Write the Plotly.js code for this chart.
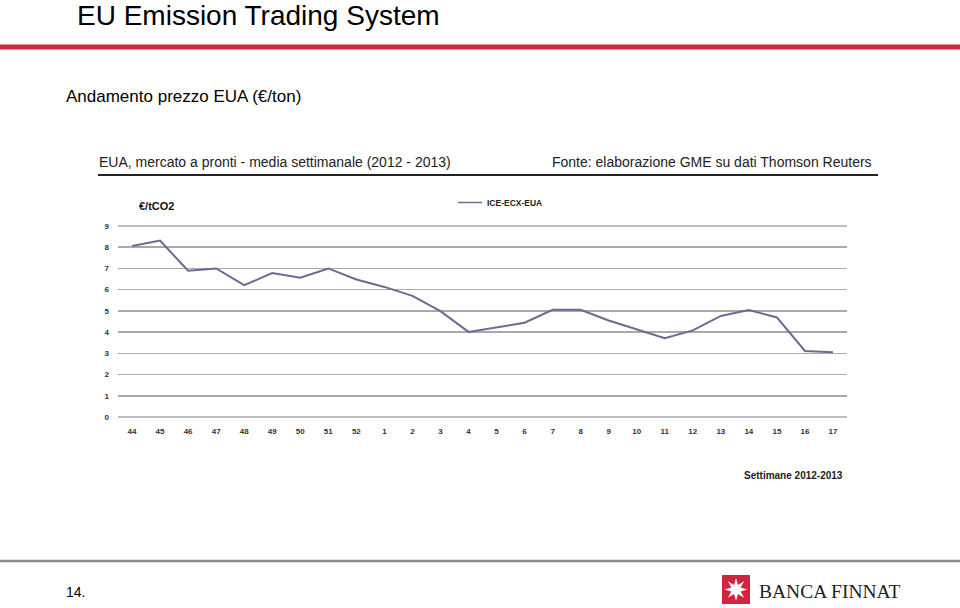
<!DOCTYPE html>
<html><head><meta charset="utf-8">
<script src="https://cdn.plot.ly/plotly-3.0.1.min.js"></script>
<style>html,body{margin:0;padding:0;background:#fff;}#chart{width:960px;height:608px;}</style>
</head><body><div id="chart"></div>
<script>
const weeks = ["44","45","46","47","48","49","50","51","52","1","2","3","4","5","6","7","8","9","10","11","12","13","14","15","16","17"];
const prices = [8.06,8.31,6.89,7.0,6.21,6.78,6.56,7.0,6.48,6.13,5.71,4.99,4.01,4.24,4.44,5.05,5.05,4.55,4.13,3.71,4.08,4.76,5.04,4.69,3.11,3.05];
const yTicks = [0,1,2,3,4,5,6,7,8,9];
const seriesName = "ICE-ECX-EUA";

const W = 960, H = 608, L = 118, R = 847, T = 226, B = 417;
const px = x => (x - L) / (R - L);
const py = y => (B - y) / (B - T);
const lineColor = "#6c6a94";
const red = "#cf2541";
const narrow = "Liberation Sans Narrow, Arial Narrow, Liberation Sans, Arial, sans-serif";

function text(t, x, y, size, opts) {
  return Object.assign({text: t, xref: "paper", yref: "paper", x: px(x), y: py(y), showarrow: false,
    xanchor: "left", yanchor: "middle", font: {family: "Liberation Sans, Arial, sans-serif", size: size, color: "#000"}}, opts || {});
}
function star(cx, cy, ro, ri, n) {
  let d = "";
  for (let i = 0; i < 2 * n; i++) {
    const a = -Math.PI / 2 + i * Math.PI / n;
    const r = i % 2 === 0 ? ro : ri;
    const X = px(cx + r * Math.cos(a)), Y = py(cy + r * Math.sin(a));
    d += (i === 0 ? "M" : "L") + X + "," + Y;
  }
  return d + "Z";
}

const trace = {x: weeks, y: prices, type: "scatter", mode: "lines", name: seriesName,
  line: {color: lineColor, width: 2}, showlegend: false};

const layout = {
  width: W, height: H,
  margin: {l: L, r: W - R, t: T, b: H - B, pad: 0},
  paper_bgcolor: "#fff", plot_bgcolor: "#fff",
  xaxis: {type: "category", range: [-0.5, weeks.length - 0.5], showgrid: false, zeroline: false, showline: false,
    ticks: "", ticklabelstandoff: 8, tickfont: {family: "Liberation Sans, Arial, sans-serif", size: 8, color: "#333", weight: "bold"}},
  yaxis: {range: [0, 9], tickvals: yTicks, showgrid: true, gridcolor: "#a9a9a9", gridwidth: 1.5, zeroline: false, showline: false,
    ticks: "", ticklabelstandoff: 8, tickfont: {family: "Liberation Sans, Arial, sans-serif", size: 8, color: "#333", weight: "bold"}},
  shapes: [
    {type: "line", xref: "paper", yref: "paper", x0: px(0), x1: px(960), y0: py(47), y1: py(47), line: {color: red, width: 5}},
    {type: "line", xref: "paper", yref: "paper", x0: px(98), x1: px(878), y0: py(175), y1: py(175), line: {color: "#222", width: 2}},
    {type: "line", xref: "paper", yref: "paper", x0: px(458), x1: px(482), y0: py(202.5), y1: py(202.5), line: {color: lineColor, width: 1.5}},
    {type: "line", xref: "paper", yref: "paper", x0: px(0), x1: px(960), y0: py(561), y1: py(561), line: {color: "#8c8c8c", width: 2.5}},
    {type: "line", xref: "paper", yref: "paper", x0: px(L), x1: px(R), y0: py(B), y1: py(B), line: {color: "#a9a9a9", width: 1.5}, layer: "below"},
    {type: "line", xref: "paper", yref: "paper", x0: px(L), x1: px(R), y0: py(T), y1: py(T), line: {color: "#a9a9a9", width: 1.5}, layer: "below"},
    {type: "rect", xref: "paper", yref: "paper", x0: px(722), x1: px(750), y0: py(575), y1: py(604), line: {width: 0}, fillcolor: red},
    {type: "path", xref: "paper", yref: "paper", path: star(736, 589.5, 11.5, 5, 8), line: {width: 0}, fillcolor: "#fff"}
  ],
  annotations: [
    text("EU Emission Trading System", 75, 16, 28),
    text("Andamento prezzo EUA (€/ton)", 64, 96, 17),
    text("EUA, mercato a pronti - media settimanale (2012 - 2013)", 97, 162, 14, {font: {family: narrow, size: 14, color: "#222"}}),
    text("Fonte: elaborazione GME su dati Thomson Reuters", 874, 162, 14, {xanchor: "right", font: {family: narrow, size: 14, color: "#222"}}),
    text("€/tCO2", 137, 206, 11, {font: {family: narrow, size: 11, color: "#111", weight: "bold"}}),
    text(seriesName, 485, 203, 8.5, {font: {family: narrow, size: 8.5, color: "#222", weight: "bold"}}),
    text("Settimane 2012-2013", 742, 475, 10, {font: {family: "Liberation Sans, Arial, sans-serif", size: 10, color: "#222", weight: "bold"}}),
    text("14.", 64, 592, 14),
    text("BANCA FINNAT", 757, 591, 19.5, {font: {family: "Liberation Serif, Times New Roman, serif", size: 19.5, color: "#222"}})
  ]
};

Plotly.newPlot("chart", [trace], layout, {staticPlot: true, displayModeBar: false});
</script></body></html>
